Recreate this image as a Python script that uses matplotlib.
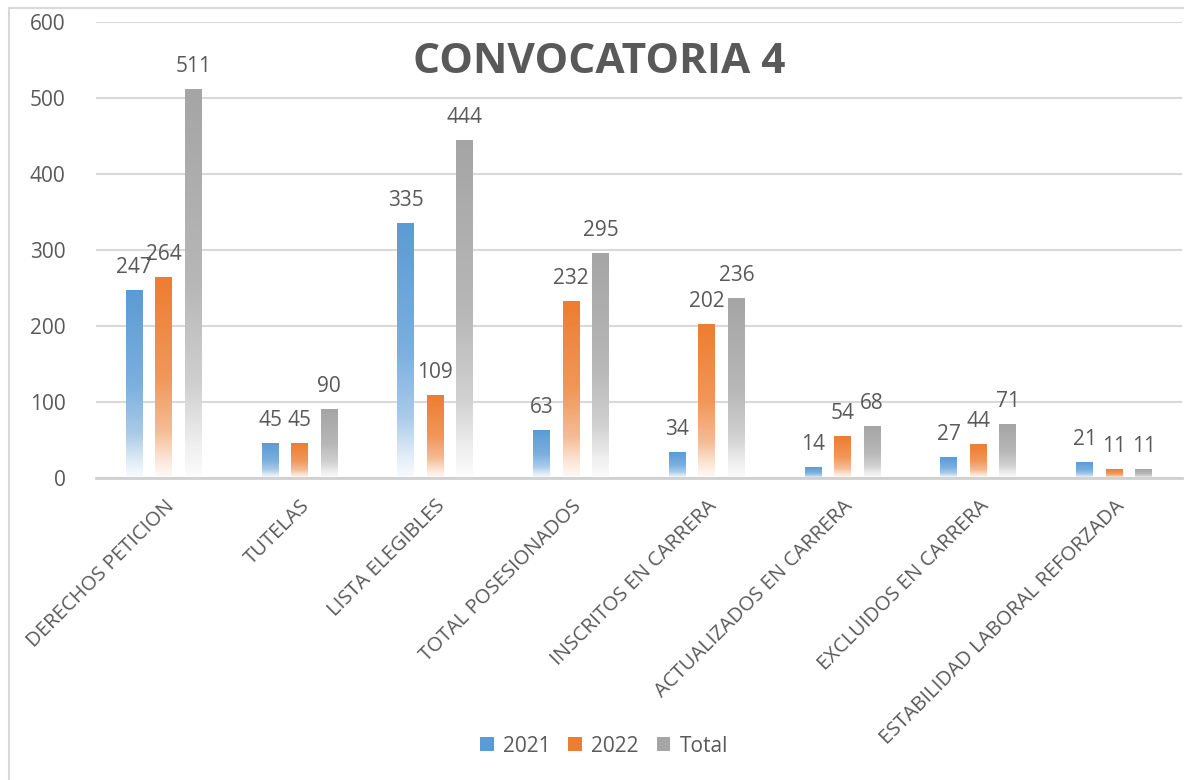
import numpy as np
import matplotlib.pyplot as plt
from matplotlib.patches import Patch, Rectangle
from matplotlib.colors import to_rgb

plt.rcParams['font.family'] = ['Open Sans', 'DejaVu Sans']

categories = ["DERECHOS PETICION", "TUTELAS", "LISTA ELEGIBLES", "TOTAL POSESIONADOS",
              "INSCRITOS EN CARRERA", "ACTUALIZADOS EN CARRERA", "EXCLUIDOS EN CARRERA",
              "ESTABILIDAD LABORAL REFORZADA"]
v2021 = [247, 45, 335, 63, 34, 14, 27, 21]
v2022 = [264, 45, 109, 232, 202, 54, 44, 11]
total = [511, 90, 444, 295, 236, 68, 71, 11]

series_names = ["2021", "2022", "Total"]
colors = ["#5B9BD5", "#ED7D31", "#A5A5A5"]
text_color = "#595959"

# gradient profile: fraction of full colour vs. relative height in the bar
grad_t = [0.0, 0.09, 0.235, 0.5, 1.0]
grad_f = [0.03, 0.19, 0.52, 0.80, 1.0]


def gradient_bar(ax, x0, width, height, color):
    n = 200
    t = np.linspace(0, 1, n)
    f = np.interp(t, grad_t, grad_f)
    c = np.array(to_rgb(color))
    img = 1 - f[:, None] * (1 - c[None, :])
    ax.imshow(img[:, None, :], extent=[x0, x0 + width, 0, height], origin='lower',
              aspect='auto', interpolation='bilinear', zorder=2)


fig = plt.figure(figsize=(11.84, 7.8), dpi=100)
ax = fig.add_axes([96 / 1184, 1 - 478 / 780, 1086 / 1184, 456 / 780])

x = np.arange(len(categories))
offset = 0.217
width = 0.125

for k, (vals, col) in enumerate(zip([v2021, v2022, total], colors)):
    for xi, v in zip(x, vals):
        xc = xi + (k - 1) * offset
        gradient_bar(ax, xc - width / 2, width, v, col)
        ax.annotate(str(v), (xc, v), xytext=(0, 9), textcoords='offset points',
                    ha='center', va='bottom', fontsize=15, color=text_color, zorder=4)

ax.set_xlim(-0.5, len(categories) - 0.5)
ax.set_ylim(0, 600)
ax.set_yticks(range(0, 700, 100))
ax.yaxis.grid(True, color='#D9D9D9', lw=1.5)
ax.set_axisbelow(True)
for s in ['left', 'right', 'top']:
    ax.spines[s].set_visible(False)
ax.spines['bottom'].set_color('#D0D0D0')
ax.spines['bottom'].set_linewidth(2)
ax.spines['bottom'].set_zorder(3)

ax.set_xticks(x)
ax.set_xticklabels(categories, rotation=45, ha='right', rotation_mode='anchor')
ax.tick_params(axis='y', length=0, pad=22, labelsize=15, labelcolor=text_color)
ax.tick_params(axis='x', length=0, pad=13, labelsize=14.6, labelcolor=text_color)

fig.text(599 / 1184, 1 - 73 / 780, "CONVOCATORIA 4", ha='center', va='baseline',
         fontsize=30.5, fontweight='bold', color=text_color)

handles = [Patch(facecolor=c, edgecolor='none') for c in colors]
fig.legend(handles, series_names, loc='center', bbox_to_anchor=(604 / 1184, 1 - 746 / 780),
           ncol=3, frameon=False, fontsize=15, labelcolor=text_color,
           handlelength=0.65, handleheight=0.65, handletextpad=0.45, columnspacing=0.85)

fig.add_artist(Rectangle((9 / 1184, -0.1), 1.2, 1 - 8 / 780 + 0.1, transform=fig.transFigure,
                         fill=False, ec='#D9D9D9', lw=1.5))

fig.savefig("out.png", dpi=100)
